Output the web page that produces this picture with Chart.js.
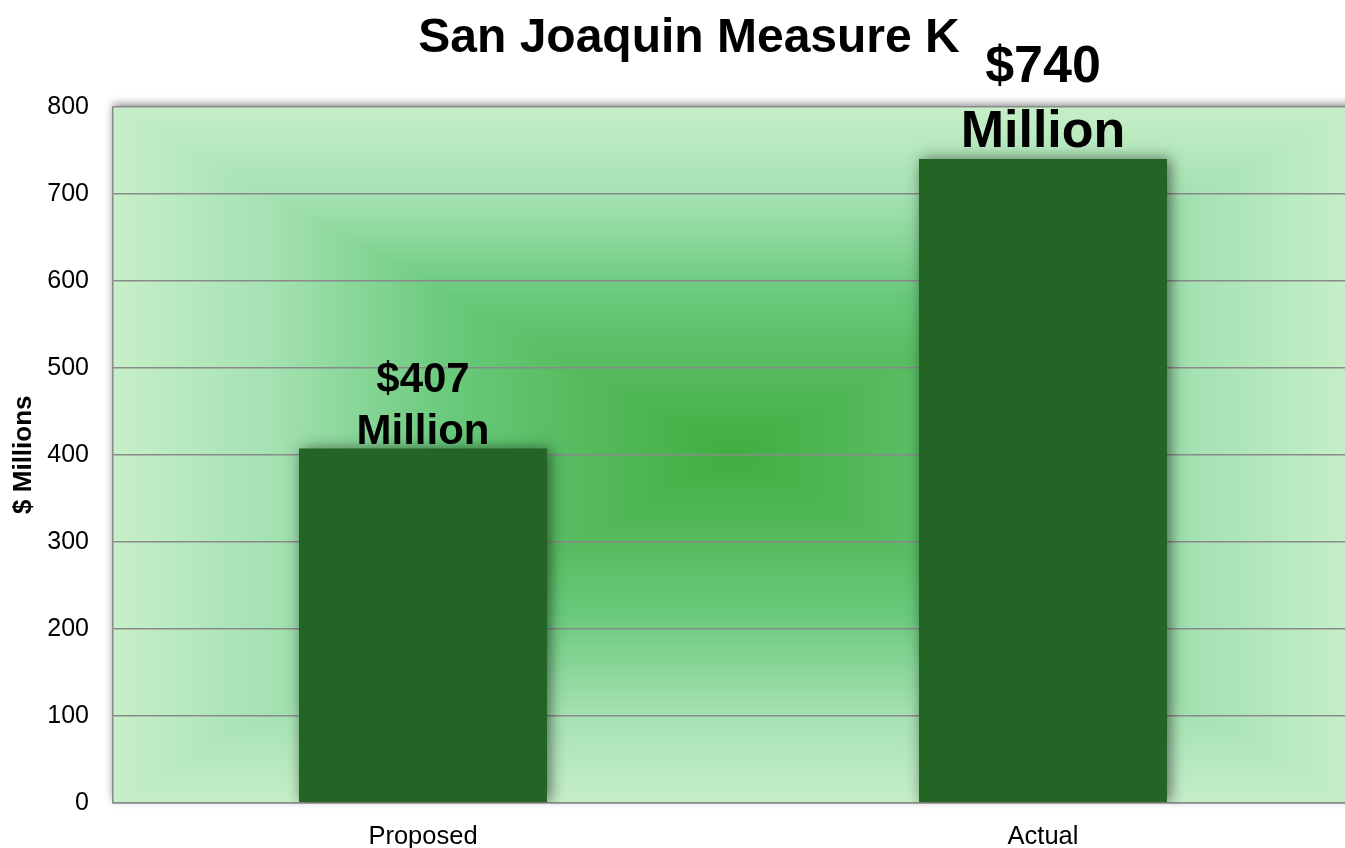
<!DOCTYPE html>
<html>
<head>
<meta charset="utf-8">
<script src="https://cdn.jsdelivr.net/npm/chart.js@4/dist/chart.umd.min.js"></script>
<style>
  html, body { margin: 0; padding: 0; background: #fff; overflow: hidden; }
  #wrap { width: 1353px; height: 848px; }
</style>
</head>
<body>
<div id="wrap"><canvas id="measureChart"></canvas></div>
<script>
const titleText = "San Joaquin Measure K";
const categories = ["Proposed", "Actual"];
const spending = [407, 740];
const valueLabels = [["$407", "Million"], ["$740", "Million"]];
const yMin = 0;
const yMax = 800;
const yStep = 100;
const yTitle = "$ Millions";

// label look per bar (style only)
const labelFontSizes = [42, 52];
const labelGaps = [5, 12];
const FONT = "'Liberation Sans', Arial, sans-serif";

// rectangular "path" gradient like the Office fill
function buildGradient(w, h) {
  const stops = [
    [0, [64, 174, 64]],
    [0.2, [82, 184, 88]],
    [0.45, [104, 201, 122]],
    [0.75, [166, 226, 179]],
    [1, [198, 239, 200]]
  ];
  const c = document.createElement("canvas");
  c.width = w; c.height = h;
  const g = c.getContext("2d");
  const img = g.createImageData(w, h);
  const hw = w / 2, hh = h / 2;
  for (let y = 0; y < h; y++) {
    for (let x = 0; x < w; x++) {
      const t = Math.min(1, Math.max(Math.abs(x + 0.5 - hw) / hw, Math.abs(y + 0.5 - hh) / hh));
      let i = 1;
      while (i < stops.length - 1 && stops[i][0] < t) i++;
      const a = stops[i - 1], b = stops[i];
      const f = (t - a[0]) / (b[0] - a[0]);
      const p = (y * w + x) * 4;
      img.data[p] = a[1][0] + (b[1][0] - a[1][0]) * f;
      img.data[p + 1] = a[1][1] + (b[1][1] - a[1][1]) * f;
      img.data[p + 2] = a[1][2] + (b[1][2] - a[1][2]) * f;
      img.data[p + 3] = 255;
    }
  }
  g.putImageData(img, 0, 0);
  return c;
}

let bgCache = null;

const plotBackground = {
  id: "plotBackground",
  beforeDraw(chart) {
    const { ctx, chartArea: a } = chart;
    const w = Math.round(a.right - a.left), h = Math.round(a.bottom - a.top);
    if (!bgCache || bgCache.width !== w || bgCache.height !== h) bgCache = buildGradient(w, h);
    ctx.save();
    ctx.fillStyle = "#fff";
    ctx.fillRect(0, 0, chart.width, chart.height);
    ctx.shadowColor = "rgba(0,0,0,0.45)";
    ctx.shadowBlur = 8;
    ctx.shadowOffsetY = -3;
    ctx.drawImage(bgCache, a.left, a.top, w, h);
    ctx.restore();
  }
};

const barShadow = {
  id: "barShadow",
  beforeDatasetsDraw(chart) {
    const ctx = chart.ctx;
    ctx.save();
    ctx.shadowColor = "rgba(0,0,0,0.55)";
    ctx.shadowBlur = 14;
    ctx.shadowOffsetX = 3;
    ctx.shadowOffsetY = 0;
  },
  afterDatasetsDraw(chart) {
    chart.ctx.restore();
  }
};

const barLabels = {
  id: "barLabels",
  afterDraw(chart) {
    const ctx = chart.ctx;
    const meta = chart.getDatasetMeta(0);
    ctx.save();
    ctx.fillStyle = "#000";
    ctx.textAlign = "center";
    ctx.textBaseline = "alphabetic";
    meta.data.forEach((bar, i) => {
      const size = labelFontSizes[i];
      const lines = valueLabels[i];
      ctx.font = "bold " + size + "px " + FONT;
      const lh = size * 1.24;
      let y = bar.y - labelGaps[i];
      for (let k = lines.length - 1; k >= 0; k--) {
        ctx.fillText(lines[k], bar.x, y);
        y -= lh;
      }
    });
    // chart title
    ctx.font = "bold 48px " + FONT;
    ctx.fillText(titleText, 689, 52);
    ctx.restore();
  }
};

new Chart(document.getElementById("measureChart"), {
  type: "bar",
  data: {
    labels: categories,
    datasets: [{
      data: spending,
      backgroundColor: "#236524",
      borderWidth: 0,
      categoryPercentage: 1,
      barPercentage: 0.4
    }]
  },
  options: {
    responsive: true,
    maintainAspectRatio: false,
    animation: false,
    layout: { padding: { top: 106.7, right: 0, left: 0, bottom: 0 } },
    plugins: {
      legend: { display: false },
      title: { display: false },
      tooltip: { enabled: false }
    },
    scales: {
      x: {
        grid: { display: false, drawTicks: false },
        border: { color: "#8a8a8a", width: 1.5 },
        ticks: { color: "#000", padding: 19, font: { family: FONT, size: 25.5 } },
        afterFit(scale) { scale.height = 45.3; }
      },
      y: {
        min: yMin,
        max: yMax,
        ticks: { stepSize: yStep, color: "#000", padding: 24, font: { family: FONT, size: 25 } },
        grid: { color: "#8a8a8a", lineWidth: 1.5, drawTicks: false },
        border: { color: "#8a8a8a", width: 1.5 },
        title: {
          display: true,
          text: yTitle,
          color: "#000",
          padding: { top: 8, bottom: 0 },
          font: { family: FONT, size: 26, weight: "bold" }
        },
        afterFit(scale) { scale.width = 113; }
      }
    }
  },
  plugins: [plotBackground, barShadow, barLabels]
});
</script>
</body>
</html>
